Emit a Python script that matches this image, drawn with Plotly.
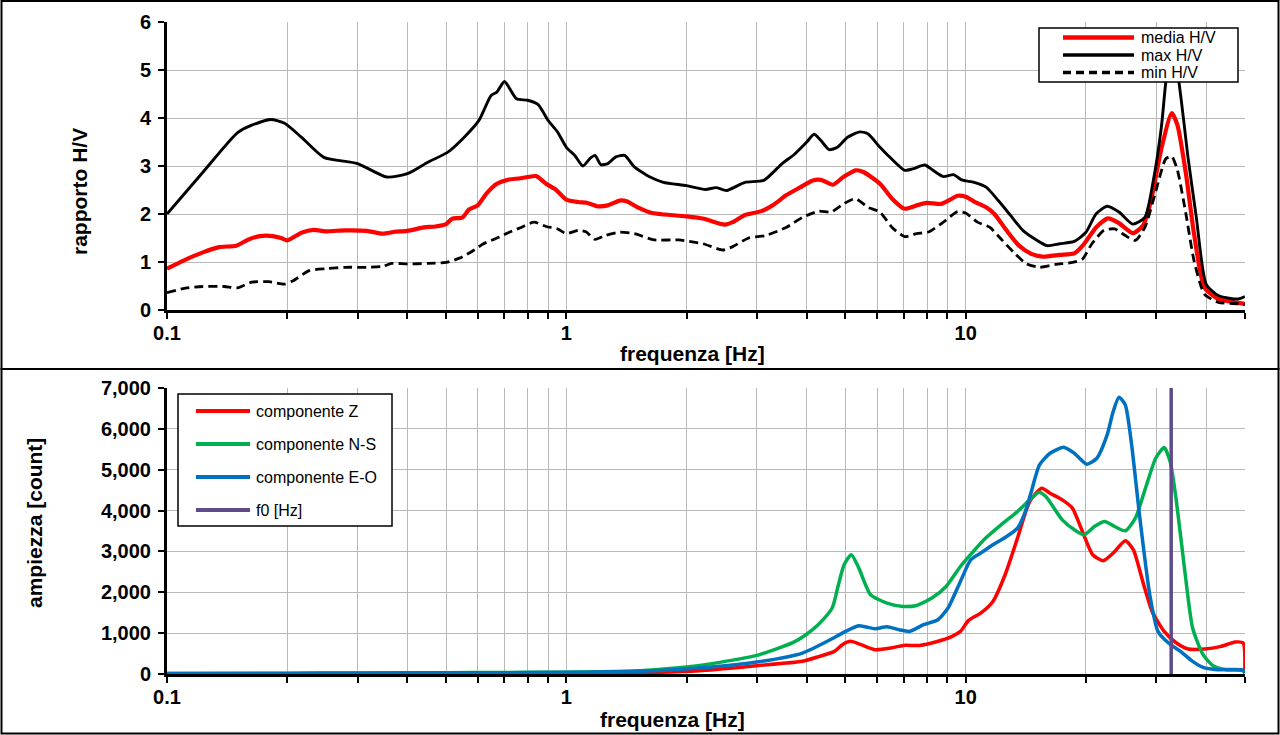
import math
import plotly.graph_objects as go

# ---------------- data ----------------
# top panel: H/V ratio
max_f = [0.1,0.123,0.15,0.163,0.182,0.197,0.217,0.247,0.3,0.355,0.4,0.45,0.505,0.555,0.604,0.648,0.67,0.7,0.75,0.8,0.85,0.9,0.95,1.0,1.05,1.1,1.15,1.18,1.22,1.27,1.33,1.4,1.48,1.62,1.75,2.0,2.23,2.37,2.52,2.8,3.12,3.47,3.72,4.0,4.17,4.34,4.55,4.77,5.06,5.43,5.69,6.1,6.39,7.03,7.36,7.9,8.28,8.79,9.32,9.77,10.5,11.25,12.07,12.95,13.9,14.9,16.0,17.2,18.7,20.0,21.2,22.6,24.2,26.2,28.1,29.5,30.9,31.7,32.9,34.2,35.2,36.0,37.8,40,42.9,46,48.2,50]
max_v = [2.0,2.87,3.69,3.85,3.97,3.89,3.60,3.18,3.05,2.77,2.84,3.08,3.29,3.60,3.95,4.47,4.54,4.76,4.40,4.37,4.28,3.95,3.71,3.39,3.22,3.0,3.17,3.22,3.03,3.05,3.19,3.22,2.98,2.77,2.66,2.59,2.51,2.55,2.49,2.66,2.70,3.05,3.24,3.50,3.66,3.53,3.34,3.39,3.60,3.71,3.67,3.39,3.22,2.91,2.94,3.02,2.91,2.78,2.82,2.71,2.66,2.56,2.28,1.97,1.66,1.48,1.34,1.38,1.43,1.62,2.0,2.16,2.04,1.79,1.93,2.70,3.81,4.75,5.7,4.75,3.9,3.2,1.93,0.54,0.30,0.24,0.23,0.28]

med_f = [0.1,0.11,0.123,0.135,0.149,0.16,0.171,0.184,0.193,0.2,0.217,0.233,0.249,0.28,0.316,0.347,0.372,0.4,0.44,0.47,0.5,0.517,0.55,0.57,0.6,0.63,0.67,0.72,0.76,0.8,0.84,0.89,0.94,1.0,1.07,1.13,1.2,1.27,1.36,1.42,1.5,1.64,1.76,2.0,2.21,2.49,2.61,2.8,3.08,3.31,3.55,3.86,4.14,4.34,4.65,4.94,5.3,5.56,6.1,6.54,7.03,7.54,7.99,8.68,9.1,9.54,10,10.5,11.25,11.8,12.65,13.6,14.6,15.6,17.2,18.7,19.8,21.2,22.7,24.2,26.2,27.8,29.1,30.9,32.8,33.9,35.6,37.3,39.6,42.9,47.2,50]
med_v = [0.86,1.03,1.20,1.31,1.34,1.47,1.54,1.54,1.50,1.45,1.61,1.67,1.64,1.66,1.65,1.59,1.63,1.65,1.72,1.74,1.79,1.90,1.93,2.09,2.18,2.42,2.63,2.72,2.74,2.77,2.79,2.63,2.51,2.30,2.25,2.23,2.16,2.18,2.28,2.26,2.15,2.02,1.99,1.95,1.90,1.78,1.83,1.98,2.06,2.20,2.39,2.56,2.70,2.71,2.61,2.77,2.91,2.87,2.63,2.32,2.11,2.18,2.23,2.21,2.29,2.38,2.36,2.26,2.14,2.0,1.66,1.34,1.17,1.11,1.15,1.18,1.38,1.72,1.91,1.81,1.60,1.76,2.28,3.36,4.1,3.85,2.84,1.59,0.47,0.23,0.16,0.13]

min_f = [0.1,0.112,0.123,0.139,0.15,0.163,0.18,0.197,0.207,0.227,0.25,0.28,0.316,0.347,0.365,0.4,0.45,0.5,0.54,0.58,0.62,0.68,0.72,0.77,0.83,0.89,0.95,1.0,1.07,1.12,1.18,1.25,1.36,1.48,1.66,1.91,2.2,2.46,2.61,2.86,3.15,3.55,3.9,4.29,4.6,4.94,5.3,5.69,6.1,6.54,7.03,7.54,8.1,8.79,9.54,10,10.7,11.5,12.35,13.3,14.2,15.3,16.8,18.5,19.6,20.7,22.2,23.6,25.1,26.6,28.1,29.8,31.7,32.8,33.9,35.6,37.3,39.6,42.9,48.2,50]
min_v = [0.36,0.46,0.49,0.49,0.46,0.58,0.59,0.54,0.61,0.82,0.86,0.89,0.89,0.91,0.97,0.96,0.97,0.99,1.08,1.22,1.38,1.52,1.62,1.72,1.83,1.74,1.69,1.59,1.66,1.63,1.47,1.55,1.62,1.59,1.46,1.46,1.38,1.25,1.32,1.50,1.55,1.72,1.93,2.06,2.04,2.21,2.32,2.14,2.04,1.72,1.53,1.59,1.63,1.83,2.05,2.02,1.83,1.72,1.45,1.17,0.96,0.89,0.95,0.99,1.06,1.38,1.66,1.69,1.55,1.45,1.72,2.42,3.15,3.20,2.91,2.0,1.03,0.33,0.16,0.13,0.11]

# bottom panel: spectra amplitude
z_f = [0.1,0.2,0.3,0.5,0.7,1.0,1.2,1.52,2.15,3.0,3.9,4.3,4.69,4.91,5.15,5.47,5.92,6.5,6.98,7.67,8.4,9.25,9.7,10.17,10.9,11.7,12.55,13.48,14.46,15.5,16.26,17.45,18.5,19.6,20.8,22.1,23.4,25.1,26.3,27.9,29.3,31.4,33.7,36.1,39.6,43.6,47.3,49.5,50]
z_v = [5,8,12,15,18,22,25,30,80,204,310,430,554,717,799,717,595,636,700,700,782,921,1043,1312,1491,1777,2429,3325,4222,4548,4425,4262,4059,3488,2918,2771,2958,3260,3040,2184,1532,1043,758,611,611,676,782,760,40]

ns_f = [0.1,0.2,0.3,0.5,0.7,1.0,1.2,1.52,2.0,2.42,3.0,3.7,3.98,4.27,4.63,4.8,4.96,5.17,5.4,5.78,6.35,6.98,7.49,8.23,8.93,9.7,10.4,11.17,12.26,13.48,14.46,15.26,15.87,17.45,18.72,19.8,21.0,22.3,23.6,25.1,26.6,28.2,29.9,31.4,32.5,33.7,35.3,37.0,39.3,41.6,44.8,49.5,50]
ns_v = [10,18,25,32,38,45,55,80,170,285,456,774,962,1206,1614,2184,2673,2918,2592,1940,1736,1654,1671,1858,2143,2632,2975,3309,3651,3977,4262,4450,4344,3773,3529,3407,3610,3733,3610,3505,3814,4548,5281,5542,5200,4222,2592,1125,473,204,106,81,20]

eo_f = [0.1,0.2,0.3,0.5,0.7,1.0,1.2,1.52,2.15,3.0,3.9,4.58,4.91,5.4,5.92,6.35,6.81,7.23,7.85,8.52,9.03,9.7,10.29,10.9,11.7,12.55,13.48,14.1,14.6,15.3,16.26,17.6,18.7,20.1,21.3,22.6,23.4,24.2,25.1,26.0,27.3,28.9,30.3,32.2,34.5,37.0,39.3,42.7,49.5,50]
eo_v = [10,15,20,28,33,40,50,65,147,293,513,839,1002,1182,1108,1157,1084,1043,1206,1328,1614,2266,2795,2958,3162,3341,3570,3977,4466,5118,5403,5550,5403,5134,5281,5851,6422,6773,6585,5648,3814,1940,1043,758,554,310,163,106,100,20]

f0 = 32.7
f0_y = [0, 7000]

top_names = ["media H/V", "max H/V", "min H/V"]
bot_names = ["componente Z", "componente N-S", "componente E-O", "f0 [Hz]"]

x_major = [0.1, 1, 10]
x_major_text = ["0.1", "1", "10"]
x_minor = [m * d for d in (0.1, 1, 10) for m in range(2, 10) if m * d <= 50]
top_yticks = [0, 1, 2, 3, 4, 5, 6]
bot_yticks = [0, 1000, 2000, 3000, 4000, 5000, 6000, 7000]

x_title = "frequenza [Hz]"
top_ytitle = "rapporto H/V"
bot_ytitle = "ampiezza [count]"

# ---------------- styling ----------------
W, H = 1280, 735
ML, MR, MT, MB = 167, 35, 22, 61
PW, PH = W - ML - MR, H - MT - MB

def px(x):
    return (x - ML) / PW

def py(y):
    return (H - MB - y) / PH

RED = "#ff0000"
GREEN = "#00b050"
BLUE = "#0070c0"
PURPLE = "#5f4b8b"
GRID = "#b9b9b9"
FONT = "Liberation Sans, Arial, sans-serif"

top_colors = [RED, "black", "black"]
top_widths = [4.2, 2.9, 2.8]
top_dash = ["solid", "solid", "9px,5px"]
bot_colors = [RED, GREEN, BLUE, PURPLE]

fig = go.Figure()

for name, xs, ys, c, w, d in zip(top_names, [med_f, max_f, min_f], [med_v, max_v, min_v],
                                 top_colors, top_widths, top_dash):
    fig.add_trace(go.Scatter(x=xs, y=ys, mode="lines", name=name, showlegend=False,
                             line=dict(color=c, width=w, dash=d, shape="spline", smoothing=0.6),
                             xaxis="x", yaxis="y"))

for name, xs, ys, c in zip(bot_names[:3], [z_f, ns_f, eo_f], [z_v, ns_v, eo_v], bot_colors[:3]):
    fig.add_trace(go.Scatter(x=xs, y=ys, mode="lines", name=name, showlegend=False,
                             line=dict(color=c, width=3.5, shape="spline", smoothing=0.6),
                             xaxis="x2", yaxis="y2"))
fig.add_trace(go.Scatter(x=[f0, f0], y=f0_y, mode="lines", name=bot_names[3], showlegend=False,
                         line=dict(color=PURPLE, width=3.5), xaxis="x2", yaxis="y2"))

tickfont = dict(family=FONT, size=20, color="black", weight="bold")
xrange = [-1, math.log10(50) + 0.0004]

def xaxis_cfg(anchor):
    return dict(type="log", range=xrange, anchor=anchor, domain=[0, 1],
                tickmode="array", tickvals=x_major, ticktext=x_major_text,
                ticks="outside", ticklen=6, tickwidth=2, tickcolor="black",
                showline=True, linewidth=3, linecolor="black",
                showgrid=True, gridcolor=GRID, gridwidth=1.3,
                minor=dict(tickmode="array", tickvals=x_minor, ticks="outside", ticklen=6,
                           tickwidth=2, tickcolor="black", showgrid=True, gridcolor=GRID, gridwidth=1.3),
                tickfont=tickfont, ticklabelstandoff=-3, zeroline=False, automargin=False)

def yaxis_cfg(anchor, rng, vals, domain, fmt):
    return dict(range=rng, anchor=anchor, domain=domain, tickmode="array", tickvals=vals,
                tickformat=fmt, ticks="outside", ticklen=6, tickwidth=2, tickcolor="black",
                showline=True, linewidth=3, linecolor="black",
                showgrid=True, gridcolor=GRID, gridwidth=1.3,
                tickfont=tickfont, ticklabelstandoff=3, zeroline=False, automargin=False)

fig.update_layout(
    width=W, height=H, margin=dict(l=ML, r=MR, t=MT, b=MB),
    paper_bgcolor="white", plot_bgcolor="white", showlegend=False,
    font=dict(family=FONT, color="black"),
    xaxis=xaxis_cfg("y"),
    yaxis=yaxis_cfg("x", [0, 6], top_yticks, [py(310), 1], "d"),
    xaxis2=xaxis_cfg("y2"),
    yaxis2=yaxis_cfg("x2", [0, 7000], bot_yticks, [0, py(388)], ",d"),
)

shapes = []
annotations = []

# panel frames
shapes.append(dict(type="rect", xref="paper", yref="paper", x0=px(1.5), x1=px(1278.5),
                   y0=py(369), y1=py(1), line=dict(color="black", width=2), layer="below"))
shapes.append(dict(type="rect", xref="paper", yref="paper", x0=px(1.5), x1=px(1278.5),
                   y0=py(733.5), y1=py(369), line=dict(color="black", width=2), layer="below"))

# axis titles
title_font = dict(family=FONT, size=21, color="black", weight="bold")
annotations += [
    dict(text=x_title, xref="paper", yref="paper", x=px(692), y=py(353), showarrow=False,
         font=title_font, xanchor="center", yanchor="middle"),
    dict(text=x_title, xref="paper", yref="paper", x=px(672), y=py(719), showarrow=False,
         font=title_font, xanchor="center", yanchor="middle"),
    dict(text=top_ytitle, xref="paper", yref="paper", x=px(79), y=py(192), showarrow=False,
         font=title_font, textangle=-90, xanchor="center", yanchor="middle"),
    dict(text=bot_ytitle, xref="paper", yref="paper", x=px(34), y=py(523), showarrow=False,
         font=title_font, textangle=-90, xanchor="center", yanchor="middle"),
]

# legend (top)
leg_font = dict(family=FONT, size=16, color="black")
shapes.append(dict(type="rect", xref="paper", yref="paper", x0=px(1039), x1=px(1238),
                   y0=py(82), y1=py(28), line=dict(color="black", width=1.5), fillcolor="white"))
for i, (name, c, w, d) in enumerate(zip(top_names, top_colors, [4.5, 3.5, 3.5], ["solid", "solid", "8px,5px"])):
    yy = 37.5 + 17.5 * i
    shapes.append(dict(type="line", xref="paper", yref="paper", x0=px(1063), x1=px(1134),
                       y0=py(yy), y1=py(yy), line=dict(color=c, width=w, dash=d)))
    annotations.append(dict(text=name, xref="paper", yref="paper", x=px(1139), y=py(yy),
                            showarrow=False, font=leg_font, xanchor="left", yanchor="middle"))

# legend (bottom)
shapes.append(dict(type="rect", xref="paper", yref="paper", x0=px(178), x1=px(392),
                   y0=py(526), y1=py(394), line=dict(color="black", width=1.5), fillcolor="white"))
for i, (name, c) in enumerate(zip(bot_names, bot_colors)):
    yy = 411 + 33 * i
    shapes.append(dict(type="line", xref="paper", yref="paper", x0=px(196), x1=px(250),
                       y0=py(yy), y1=py(yy), line=dict(color=c, width=4)))
    annotations.append(dict(text=name, xref="paper", yref="paper", x=px(254), y=py(yy),
                            showarrow=False, font=leg_font, xanchor="left", yanchor="middle"))

fig.update_layout(shapes=shapes, annotations=annotations)
fig.write_html("out.html", config={"displayModeBar": False},
               post_script="document.body.style.margin='0';document.body.style.padding='0';"
                           "document.body.style.overflow='hidden';")
